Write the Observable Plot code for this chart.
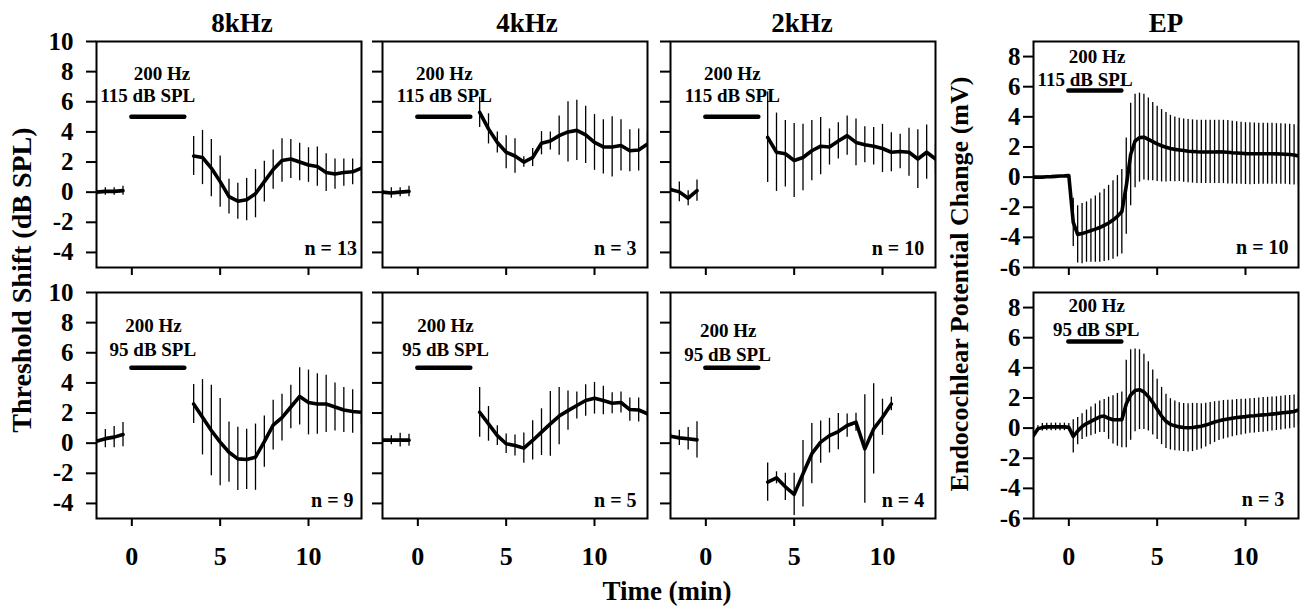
<!DOCTYPE html>
<html><head><meta charset="utf-8">
<script src="https://cdn.jsdelivr.net/npm/d3@7"></script>
<script src="https://cdn.jsdelivr.net/npm/@observablehq/plot@0.6"></script>
<style>
body{margin:0;background:#fff;}
#fig{position:relative;width:1305px;height:609px;overflow:hidden;background:#fff;}
</style></head><body><div id="fig"></div>
<script>
// ---------- data ----------
const panelTitles = ["8kHz", "4kHz", "2kHz", "EP"];
const xTitle = "Time (min)";
const yTitleThr = "Threshold Shift (dB SPL)";
const yTitleEP = "Endocochlear Potential Change (mV)";
const xTicks = [0, 5, 10];
const thrTicks = [-4, -2, 0, 2, 4, 6, 8, 10];
const epTicks = [-6, -4, -2, 0, 2, 4, 6, 8];
const stimOn = 0, stimOff = 3;

const timePre = [-2, -1.5, -1, -0.5];
const timePost = [3.5, 4, 4.5, 5, 5.5, 6, 6.5, 7, 7.5, 8, 8.5, 9, 9.5, 10, 10.5, 11, 11.5, 12, 12.5, 13];
const timePost2k95 = [3.5, 4, 4.5, 5, 5.5, 6, 6.5, 7, 7.5, 8, 8.5, 9, 9.5, 10, 10.5];
const timeEP = [-2, -1.75, -1.5, -1.25, -1, -0.75, -0.5, -0.25, 0,
  0.25, 0.5, 0.75, 1, 1.25, 1.5, 1.75, 2, 2.25, 2.5, 2.75, 3,
  3.25, 3.5, 3.75, 4, 4.25, 4.5, 4.75, 5, 5.25, 5.5, 5.75, 6,
  6.25, 6.5, 6.75, 7, 7.25, 7.5, 7.75, 8, 8.25, 8.5, 8.75, 9,
  9.25, 9.5, 9.75, 10, 10.25, 10.5, 10.75, 11, 11.25, 11.5, 11.75, 12,
  12.25, 12.5, 12.75, 13];

// 8 kHz, 115 dB SPL
const m8k115Pre = [0, 0.05, 0.05, 0.1];
const e8k115Pre = [0.2, 0.25, 0.25, 0.3];
const m8k115Post = [2.4, 2.3, 1.6, 0.7, -0.3, -0.6, -0.5, -0.1, 0.7, 1.5, 2.1, 2.2, 2.0, 1.8, 1.7, 1.3, 1.2, 1.3, 1.35, 1.6];
const e8k115Post = [1.3, 1.8, 1.9, 1.7, 1.15, 1.2, 1.4, 1.6, 1.35, 1.3, 1.45, 1.3, 1.25, 1.15, 1.3, 1.25, 1.0, 0.9, 0.85, 0.6];
// 4 kHz, 115 dB SPL
const m4k115Pre = [0, -0.05, 0, 0.05];
const e4k115Pre = [0.2, 0.35, 0.3, 0.35];
const m4k115Post = [5.3, 4.2, 3.3, 2.65, 2.4, 2.0, 2.3, 3.25, 3.4, 3.75, 4.0, 4.1, 3.8, 3.3, 3.0, 3.0, 3.1, 2.75, 2.8, 3.2];
const e4k115Post = [1.0, 1.0, 0.7, 1.1, 1.15, 0.35, 0.6, 0.77, 0.6, 1.3, 2.0, 2.0, 1.9, 1.85, 1.8, 2.0, 1.7, 1.4, 1.4, 0.8];
// 2 kHz, 115 dB SPL
const m2k115Pre = [0.18, 0.02, -0.4, 0.1];
const e2k115Pre = [0.2, 0.65, 0.5, 0.7];
const m2k115Post = [3.64, 2.65, 2.55, 2.1, 2.3, 2.75, 3.05, 3.0, 3.4, 3.75, 3.3, 3.15, 3.05, 2.9, 2.65, 2.7, 2.65, 2.2, 2.65, 2.2];
const e2k115Post = [3.0, 2.6, 2.2, 2.45, 2.2, 2.0, 1.9, 1.2, 1.2, 1.3, 1.55, 1.2, 1.25, 1.6, 1.3, 1.15, 1.6, 1.95, 1.8, 1.0];
// EP, 115 dB SPL
const mEP115 = [0, 0, 0, 0.02, 0.03, 0.05, 0.07, 0.08, 0.1,
  -3.0, -3.8, -3.75, -3.65, -3.55, -3.45, -3.35, -3.2, -3.05, -2.85, -2.6, -2.3,
  -0.6, 1.5, 2.4, 2.62, 2.65, 2.5, 2.35, 2.2, 2.08, 1.98, 1.9, 1.84,
  1.8, 1.76, 1.72, 1.7, 1.68, 1.67, 1.67, 1.67, 1.67, 1.68, 1.67, 1.65,
  1.62, 1.6, 1.58, 1.56, 1.55, 1.55, 1.55, 1.55, 1.55, 1.55, 1.54, 1.53,
  1.52, 1.5, 1.47, 1.4];
const eEP115 = [0, 0, 0, 0, 0, 0, 0, 0, 0,
  1.6, 1.9, 2.0, 2.0, 2.1, 2.2, 2.3, 2.4, 2.5, 2.6, 2.7, 2.8,
  3.2, 3.4, 3.1, 2.95, 2.85, 2.75, 2.6, 2.5, 2.4, 2.3, 2.2, 2.15,
  2.1, 2.1, 2.1, 2.1, 2.1, 2.1, 2.1, 2.1, 2.1, 2.1, 2.1, 2.1,
  2.08, 2.07, 2.06, 2.05, 2.05, 2.04, 2.03, 2.03, 2.02, 2.02, 2.01, 2.01,
  2.0, 2.0, 2.0, 2.0];
// 8 kHz, 95 dB SPL
const m8k95Pre = [0.13, 0.3, 0.4, 0.57];
const e8k95Pre = [0.2, 0.6, 0.7, 0.8];
const m8k95Post = [2.6, 1.72, 0.84, 0.07, -0.6, -1.04, -1.08, -0.93, 0.1, 1.2, 1.7, 2.4, 3.1, 2.7, 2.6, 2.6, 2.4, 2.2, 2.1, 2.05];
const e8k95Post = [1.3, 2.5, 3.0, 2.9, 2.0, 2.1, 2.0, 2.2, 1.7, 1.65, 1.55, 1.45, 1.9, 2.15, 2.0, 1.9, 1.6, 1.5, 1.45, 0.8];
// 4 kHz, 95 dB SPL
const m4k95Pre = [0.2, 0.2, 0.2, 0.2];
const e4k95Pre = [0.2, 0.3, 0.45, 0.4];
const m4k95Post = [2.05, 1.28, 0.5, -0.04, -0.15, -0.33, 0.18, 0.73, 1.28, 1.8, 2.16, 2.5, 2.83, 2.98, 2.83, 2.65, 2.7, 2.23, 2.2, 1.95];
const e4k95Post = [1.65, 1.15, 0.65, 0.65, 0.7, 1.0, 1.3, 1.55, 2.15, 1.9, 1.3, 0.9, 1.05, 1.05, 0.95, 0.7, 0.7, 0.77, 0.8, 0.4];
// 2 kHz, 95 dB SPL
const m2k95Pre = [0.46, 0.35, 0.29, 0.22];
const e2k95Pre = [0.2, 0.5, 0.75, 1.2];
const m2k95Post = [-2.58, -2.3, -2.9, -3.4, -2.03, -0.7, 0.07, 0.5, 0.77, 1.17, 1.39, -0.38, 0.95, 1.72, 2.6];
const e2k95Post = [1.27, 0.4, 0.9, 1.4, 2.2, 2.0, 1.4, 1.15, 1.2, 0.77, 0.6, 3.6, 3.0, 1.2, 0.45];
// EP, 95 dB SPL
const mEP95 = [-0.5, -0.05, 0.05, 0.08, 0.08, 0.08, 0.08, 0.08, 0.05,
  -0.55, -0.2, 0.1, 0.3, 0.45, 0.6, 0.75, 0.8, 0.65, 0.55, 0.55, 0.55,
  1.6, 2.2, 2.5, 2.55, 2.4, 2.1, 1.7, 1.25, 0.8, 0.45, 0.25, 0.15,
  0.08, 0.04, 0.02, 0.04, 0.08, 0.12, 0.2, 0.3, 0.4, 0.48, 0.55, 0.6,
  0.65, 0.7, 0.73, 0.76, 0.8, 0.82, 0.85, 0.88, 0.9, 0.93, 0.96, 1.0,
  1.03, 1.06, 1.1, 1.2];
const eEP95 = [0, 0.2, 0.25, 0.25, 0.25, 0.25, 0.25, 0.25, 0.25,
  1.1, 0.9, 0.85, 0.9, 0.95, 1.0, 1.05, 1.1, 1.4, 1.6, 1.75, 1.85,
  2.9, 3.0, 2.75, 2.65, 2.5, 2.3, 2.15, 2.0, 1.9, 1.8, 1.7, 1.65,
  1.6, 1.6, 1.6, 1.6, 1.55, 1.5, 1.45, 1.4, 1.35, 1.3, 1.28, 1.25,
  1.22, 1.2, 1.18, 1.16, 1.15, 1.15, 1.15, 1.15, 1.14, 1.13, 1.12, 1.12,
  1.11, 1.11, 1.1, 1.1];

// annotation texts
const freqText = "200 Hz";
const levelTexts = ["115 dB SPL", "95 dB SPL"];
const nTexts = ["n = 13", "n = 3", "n = 10", "n = 10", "n = 9", "n = 5", "n = 4", "n = 3"];
// annotation anchors in data units (t, value) per panel
const freqAt = [[1.7, 7.45], [1.5, 7.45], [1.5, 7.45], [1.6, 7.6], [1.23, 7.4], [1.57, 7.4], [1.27, 7.05], [1.58, 7.7]];
const levelAt = [[0.9, 6.0], [1.5, 6.0], [1.5, 6.0], [0.92, 6.05], [1.19, 5.8], [1.57, 5.8], [1.23, 5.45], [1.55, 6.1]];
const nAt = [[12.74, -4.14], [12.38, -4.14], [12.36, -4.14], [12.44, -5.1], [12.55, -4.24], [12.38, -4.24], [12.36, -4.24], [12.2, -5.2]];
const stimLevelThr = 5, stimLevelEP = 5.75;

// ---------- layout ----------
const fig = document.getElementById("fig");
const FW = 265, FH = 226;
const colX = [96, 382, 670, 1033];
const rowY = [40.5, 291.5];
const FONT = "'Liberation Serif', 'Times New Roman', serif";
const yTickFont = 25, xTickFont = 26;
const xDomain = [-2, 13], thrDomain = [-5, 10], epDomain = [-6, 9];

function seg(t, m, e, k) { return t.map((x, i) => ({t: x, m: m[i], e: e[i], seg: k})); }

const panels = [
  {col: 0, row: 0, kind: "thr", data: [...seg(timePre, m8k115Pre, e8k115Pre, 0), ...seg(timePost, m8k115Post, e8k115Post, 1)]},
  {col: 1, row: 0, kind: "thr", data: [...seg(timePre, m4k115Pre, e4k115Pre, 0), ...seg(timePost, m4k115Post, e4k115Post, 1)]},
  {col: 2, row: 0, kind: "thr", data: [...seg(timePre, m2k115Pre, e2k115Pre, 0), ...seg(timePost, m2k115Post, e2k115Post, 1)]},
  {col: 3, row: 0, kind: "EP", data: seg(timeEP, mEP115, eEP115, 0)},
  {col: 0, row: 1, kind: "thr", data: [...seg(timePre, m8k95Pre, e8k95Pre, 0), ...seg(timePost, m8k95Post, e8k95Post, 1)]},
  {col: 1, row: 1, kind: "thr", data: [...seg(timePre, m4k95Pre, e4k95Pre, 0), ...seg(timePost, m4k95Post, e4k95Post, 1)]},
  {col: 2, row: 1, kind: "thr", data: [...seg(timePre, m2k95Pre, e2k95Pre, 0), ...seg(timePost2k95, m2k95Post, e2k95Post, 1)]},
  {col: 3, row: 1, kind: "EP", data: seg(timeEP, mEP95, eEP95, 0)}
];

panels.forEach((p, idx) => {
  const ml = 80, mr = 12, mt = 12, mb = 62;
  const isEP = p.kind === "EP";
  const yDomain = isEP ? epDomain : thrDomain;
  const yTicks = isEP ? epTicks : thrTicks;
  const showYLabels = isEP || p.col === 0;
  const showXLabels = p.row === 1;
  const stimY = isEP ? stimLevelEP : stimLevelThr;
  const annot = [
    {t: freqAt[idx][0], v: freqAt[idx][1], s: freqText},
    {t: levelAt[idx][0], v: levelAt[idx][1], s: levelTexts[p.row]}
  ];
  const nLab = [{t: nAt[idx][0], v: nAt[idx][1], s: nTexts[idx]}];
  const marks = [
    Plot.ruleX(p.data.filter(d => d.e > 0), {x: "t", y1: d => d.m - d.e, y2: d => d.m + d.e, stroke: "black", strokeWidth: 1.3, clip: true}),
    Plot.line(p.data, {x: "t", y: "m", z: "seg", stroke: "black", strokeWidth: 3.6, strokeLinejoin: "round", clip: true}),
    Plot.ruleY([{v: stimY}], {y: "v", x1: () => stimOn, x2: () => stimOff, stroke: "black", strokeWidth: 4.5, strokeLinecap: "round"}),
    Plot.text(annot, {x: "t", y: "v", text: "s", fontSize: 19, lineAnchor: "bottom", fill: "black"}),
    Plot.text(nLab, {x: "t", y: "v", text: "s", fontSize: 20, lineAnchor: "bottom", textAnchor: "end", fill: "black"}),
    Plot.frame({stroke: "black", strokeWidth: 2}),
    Plot.axisY({ticks: yTicks, tickSize: 10, strokeWidth: 2, tickFormat: () => "", label: null}),
    Plot.axisX({ticks: xTicks, tickSize: 8, strokeWidth: 2, tickFormat: () => "", label: null})
  ];
  if (showYLabels) marks.push(Plot.text(yTicks, {x: () => xDomain[0], y: d => d, text: d => String(d),
    textAnchor: "end", lineAnchor: "middle", dx: isEP ? -13 : -23, fontSize: yTickFont, fill: "black"}));
  if (showXLabels) marks.push(Plot.text(xTicks, {x: d => d, y: () => yDomain[0], text: d => String(d),
    textAnchor: "middle", lineAnchor: "top", dy: 28, fontSize: xTickFont, fill: "black"}));
  const svg = Plot.plot({
    width: FW + ml + mr, height: FH + mt + mb,
    marginLeft: ml, marginRight: mr, marginTop: mt, marginBottom: mb,
    x: {domain: xDomain},
    y: {domain: yDomain},
    style: {background: "transparent", overflow: "visible", fontFamily: FONT, fontWeight: "bold", color: "black"},
    marks
  });
  svg.style.position = "absolute";
  svg.style.left = (colX[p.col] - ml) + "px";
  svg.style.top = (rowY[p.row] - mt) + "px";
  svg.style.maxWidth = "none";
  fig.appendChild(svg);
});

// ---------- titles ----------
const overlay = d3.select(fig).append("svg")
  .attr("width", 1305).attr("height", 609)
  .style("position", "absolute").style("left", "0px").style("top", "0px")
  .style("pointer-events", "none")
  .attr("font-family", FONT).attr("font-weight", "bold");
const titleX = [242, 527, 802, 1166];
panelTitles.forEach((s, i) => overlay.append("text").attr("x", titleX[i]).attr("y", 32)
  .attr("text-anchor", "middle").attr("font-size", 27).text(s));
overlay.append("text").attr("x", 667).attr("y", 600).attr("text-anchor", "middle").attr("font-size", 27).text(xTitle);
overlay.append("text").attr("transform", "translate(31,280) rotate(-90)").attr("text-anchor", "middle").attr("font-size", 28).text(yTitleThr);
overlay.append("text").attr("transform", "translate(968,284) rotate(-90)").attr("text-anchor", "middle").attr("font-size", 26).text(yTitleEP);
</script></body></html>
